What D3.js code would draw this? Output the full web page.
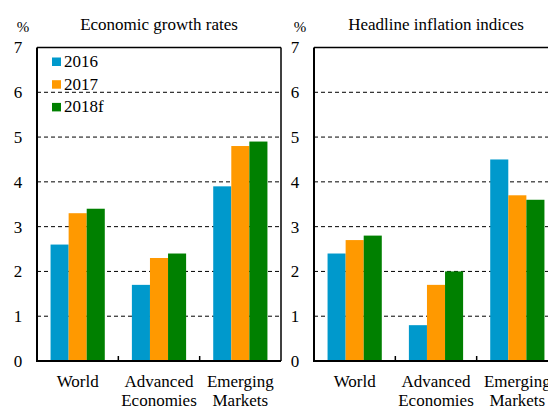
<!DOCTYPE html>
<html>
<head>
  <meta charset="UTF-8">
</head>
<body style="margin:0">
  <svg id="chart" width="548" height="408"></svg>
  <script src="https://cdn.jsdelivr.net/npm/d3@7"></script>
  <script>
    var categories = ["World", "Advanced\nEconomies", "Emerging\nMarkets"];
    var years = ["2016", "2017", "2018f"];
    var colors = ["#0099cc", "#ff9900", "#008000"];
    var yTicks = [0, 1, 2, 3, 4, 5, 6, 7];

    // rows = categories, columns = years
    var growth = [
      [2.6, 3.3, 3.4],
      [1.7, 2.3, 2.4],
      [3.9, 4.8, 4.9]
    ];
    var inflation = [
      [2.4, 2.7, 2.8],
      [0.8, 1.7, 2.0],
      [4.5, 3.7, 3.6]
    ];

    var svg = d3.select("#chart");
    var plotTop = 47.5, plotBottom = 361, w = 244;

    var y = d3.scaleLinear().domain([0, 7]).range([plotBottom, plotTop]);

    function label(g, size) {
      return g.append("text").style("font-family", "Liberation Serif").style("font-size", size + "px");
    }

    function panel(left, title, data, legend) {
      var g = svg.append("g");
      var x = d3.scaleBand().domain(categories).range([left, left + w]).paddingInner(0.3333).paddingOuter(0.1667);
      var xs = d3.scaleBand().domain(years).range([0, x.bandwidth()]);

      // gridlines
      g.selectAll(".grid").data(yTicks.slice(1, -1)).enter().append("line")
        .attr("x1", left).attr("x2", left + w)
        .attr("y1", function (d) { return y(d); }).attr("y2", function (d) { return y(d); })
        .attr("stroke", "#000").attr("stroke-width", 1).attr("stroke-dasharray", "4,3");

      // bars
      categories.forEach(function (c, i) {
        g.selectAll(null).data(data[i]).enter().append("rect")
          .attr("x", function (d, j) { return x(c) + xs(years[j]); })
          .attr("y", function (d) { return y(d); })
          .attr("width", xs.bandwidth())
          .attr("height", function (d) { return plotBottom - y(d); })
          .attr("fill", function (d, j) { return colors[j]; });
      });

      // frame
      g.append("line").attr("x1", left).attr("x2", left + w).attr("y1", plotTop).attr("y2", plotTop)
        .attr("stroke", "#000").attr("stroke-width", 1.5);
      g.append("line").attr("x1", left + w).attr("x2", left + w).attr("y1", plotTop).attr("y2", plotBottom)
        .attr("stroke", "#000").attr("stroke-width", 1.5);
      g.append("line").attr("x1", left).attr("x2", left).attr("y1", plotTop).attr("y2", plotBottom + 1)
        .attr("stroke", "#000").attr("stroke-width", 2);
      g.append("line").attr("x1", left - 1).attr("x2", left + w).attr("y1", plotBottom).attr("y2", plotBottom)
        .attr("stroke", "#000").attr("stroke-width", 2);

      // category separator ticks
      var step = w / categories.length;
      g.selectAll(".sep").data([1, 2]).enter().append("line")
        .attr("x1", function (d) { return left + d * step; })
        .attr("x2", function (d) { return left + d * step; })
        .attr("y1", plotBottom).attr("y2", plotBottom - 5)
        .attr("stroke", "#000").attr("stroke-width", 1.5);

      // y labels
      yTicks.forEach(function (d) {
        label(g, 17).attr("x", left - 19).attr("y", y(d)).attr("dy", "0.35em")
          .attr("text-anchor", "middle").text(d);
      });

      label(g, 15).attr("x", left - 14).attr("y", 32).attr("text-anchor", "middle").text("%");
      label(g, 17).attr("x", left + w / 2).attr("y", 30).attr("text-anchor", "middle").text(title);

      // category labels
      categories.forEach(function (c) {
        var t = label(g, 17).attr("text-anchor", "middle");
        c.split("\n").forEach(function (line, k) {
          t.append("tspan").attr("x", x(c) + x.bandwidth() / 2).attr("y", 387 + k * 19).text(line);
        });
      });

      if (legend) {
        years.forEach(function (yr, j) {
          g.append("rect").attr("x", left + 15).attr("y", 57.5 + j * 22.7).attr("width", 9).attr("height", 8.5)
            .attr("fill", colors[j]);
          label(g, 17).attr("x", left + 27).attr("y", 67 + j * 22.7).text(yr);
        });
      }
    }

    panel(37, "Economic growth rates", growth, true);
    panel(314, "Headline inflation indices", inflation, false);
  </script>
</body>
</html>
